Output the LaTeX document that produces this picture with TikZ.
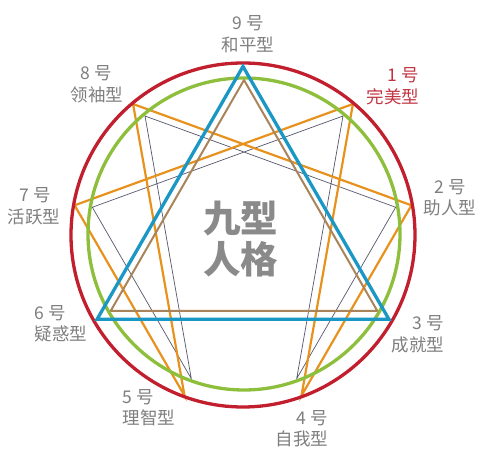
\documentclass[tikz,border=0pt]{standalone}
\usepackage{fontspec}
\setmainfont{Noto Sans CJK SC}
\usetikzlibrary{calc}
\definecolor{cred}{HTML}{C21F2E}
\definecolor{cgreen}{HTML}{8DBE3C}
\definecolor{cblue}{HTML}{1B97C6}
\definecolor{corange}{HTML}{E8921E}
\definecolor{cbrown}{HTML}{A9845B}
\definecolor{cthin}{HTML}{55566A}
\definecolor{ctext}{HTML}{7E7E7E}
\definecolor{ctitle}{HTML}{8A8A8A}
\definecolor{clabred}{HTML}{C23442}
\tikzset{
  lab/.style={font=\fontsize{17.5}{19}\selectfont, text=ctext, inner sep=0pt, anchor=center},
  redlab/.style={lab, text=clabred},
  title/.style={font=\fontsize{37.5}{40}\selectfont\bfseries, text=ctitle, inner sep=0pt},
  redring/.style={draw=cred, line width=3.3pt},
  greenring/.style={draw=cgreen, line width=3.3pt},
  bluetri/.style={draw=cblue, line width=3.3pt, line join=miter},
  browntri/.style={draw=cbrown, line width=2pt, line join=miter},
  hexad/.style={draw=corange, line width=2.2pt, line join=miter},
  thinhex/.style={draw=cthin, line width=0.7pt},
}
\begin{document}
\begin{tikzpicture}[x=1pt,y=1pt]
\useasboundingbox (-243,-222) rectangle (258,235);
\coordinate (C) at (0,0);
\coordinate (G) at (1,1);
\foreach \n/\a in {9/90,1/50,2/10,3/-30,4/-70,5/-110,6/-150,7/170,8/130}{
  \coordinate (o\n) at (\a:171);
  \coordinate (b\n) at (\a:168.5);
  \coordinate (i\n) at ($(G)+(\a:154)$);
}
% thin inner hexad
\draw[thinhex] (i1) -- (i4) -- (i2) -- (i8) -- (i5) -- (i7) -- cycle;
% orange hexad
\draw[hexad] (o1) -- (o4) -- (o2) -- (o8) -- (o5) -- (o7) -- cycle;
% brown triangle
\draw[browntri] (i9) -- (i3) -- (i6) -- cycle;
% circles
\node[greenring, circle, minimum size=312pt, inner sep=0pt] (gc) at (G) {};
\node[redring, circle, minimum size=344pt, inner sep=0pt] (rc) at (C) {};
% blue triangle
\draw[bluetri] (b9) -- (b3) -- (b6) -- cycle;
% labels
\node[lab] (l9a) at (5,212) {9 号};
\node[lab] (l9b) at (5,190) {和平型};
\node[lab] (l8a) at (-147,162) {8 号};
\node[lab] (l8b) at (-146,140) {领袖型};
\node[redlab] (l1a) at (160,160) {1 号};
\node[redlab] (l1b) at (150,138) {完美型};
\node[lab] (l2a) at (207,48) {2 号};
\node[lab] (l2b) at (207,27) {助人型};
\node[lab] (l7a) at (-208,40) {7 号};
\node[lab] (l7b) at (-209,18) {活跃型};
\node[lab] (l6a) at (-193,-78) {6 号};
\node[lab] (l6b) at (-182,-99) {疑惑型};
\node[lab] (l3a) at (185,-88) {3 号};
\node[lab] (l3b) at (175,-110) {成就型};
\node[lab] (l5a) at (-105,-162) {5 号};
\node[lab] (l5b) at (-94,-183) {理智型};
\node[lab] (l4a) at (69,-183) {4 号};
\node[lab] (l4b) at (59,-204) {自我型};
% title
\node[title] (t1) at (-2,16.5) {九型};
\node[title] (t2) at (-2,-24) {人格};
\end{tikzpicture}
\end{document}
